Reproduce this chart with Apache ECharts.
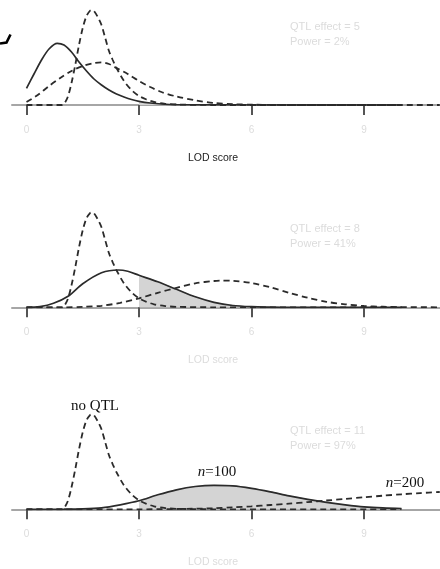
<!DOCTYPE html>
<html>
<head>
<meta charset="utf-8">
<script src="https://cdn.jsdelivr.net/npm/echarts@6/dist/echarts.min.js"></script>
<style>html,body{margin:0;padding:0;background:#fff;}#c{width:440px;height:569px;}</style>
</head>
<body>
<div id="c"></div>
<script>
// ---- data (LOD score, density) ----
var tickValues = [0, 3, 6, 9];
var threshold = 3;
var effects = ['QTL effect = 5', 'QTL effect = 8', 'QTL effect = 11'];
var powers = ['Power = 2%', 'Power = 41%', 'Power = 97%'];

var noQtl = [[0,0],[0.95,0],[1.0,0.01],[1.1,0.08],[1.2,0.22],[1.3,0.4],[1.4,0.6],[1.5,0.77],[1.6,0.89],[1.7,0.945],[1.75,0.95],[1.8,0.94],[1.9,0.88],[2.0,0.8],[2.1,0.67],[2.2,0.54],[2.3,0.45],[2.4,0.37],[2.6,0.24],[2.8,0.15],[3.0,0.09],[3.2,0.055],[3.4,0.03],[3.7,0.012],[4.0,0.005],[5,0],[10,0]];

var n100_p1 = [[0,0.167],[0.2,0.31],[0.4,0.45],[0.6,0.56],[0.82,0.617],[1.0,0.6],[1.2,0.53],[1.4,0.43],[1.6,0.34],[1.8,0.26],[2.0,0.2],[2.2,0.15],[2.4,0.11],[2.6,0.08],[2.8,0.055],[3.0,0.037],[3.3,0.02],[3.6,0.01],[4,0.004],[5,0.001],[6,0],[10,0]];
var n200_p1 = [[0,0.03],[0.3,0.1],[0.6,0.19],[0.9,0.27],[1.2,0.34],[1.5,0.39],[1.8,0.42],[2.0,0.427],[2.2,0.41],[2.4,0.37],[2.7,0.31],[3.0,0.24],[3.3,0.18],[3.6,0.13],[4.0,0.085],[4.5,0.047],[5.0,0.02],[5.5,0.008],[6,0.003],[7,0],[11.02,0]];

var n100_p2 = [[0,0],[0.36,0.007],[0.72,0.04],[1.12,0.113],[1.5,0.235],[2.0,0.345],[2.45,0.373],[2.7,0.36],[3.0,0.32],[3.5,0.255],[4.0,0.18],[4.5,0.105],[5.0,0.05],[5.5,0.018],[6.0,0.006],[6.5,0.002],[7,0],[10,0]];
var n200_p2 = [[0,0],[1.0,0],[1.5,0.005],[2,0.015],[2.5,0.045],[3,0.09],[3.5,0.145],[4,0.195],[4.5,0.24],[5,0.263],[5.2,0.267],[5.5,0.265],[6,0.243],[6.5,0.2],[7,0.145],[7.5,0.095],[8,0.055],[8.5,0.03],[9,0.013],[9.5,0.006],[10,0.002],[11.02,0]];

var n100_p3 = [[0,0],[1,0.001],[1.5,0.004],[2,0.015],[2.5,0.045],[3,0.085],[3.5,0.145],[4,0.195],[4.5,0.228],[5,0.24],[5.5,0.235],[6,0.21],[6.5,0.175],[7,0.135],[7.5,0.1],[8,0.07],[8.5,0.045],[9,0.025],[9.5,0.014],[10,0.008]];
var n200_p3 = [[0,0],[3,0],[4,0.003],[5,0.01],[5.5,0.02],[6,0.03],[6.5,0.043],[7,0.057],[7.5,0.072],[8,0.088],[8.5,0.104],[9,0.12],[9.5,0.136],[10,0.15],[10.5,0.162],[11.02,0.173]];

var n100Sets = [n100_p1, n100_p2, n100_p3];
var n200Sets = [n200_p1, n200_p2, n200_p3];

// ---- layout ----
var baselines = [105, 307.3, 509.3];
var plotH = 100;
var font = '"Liberation Sans", Arial, sans-serif';
var serif = '"Liberation Serif", "Times New Roman", serif';
var ink = '#2b2b2b';
var sm = 0.3;

var grids = [], xAxes = [], yAxes = [], series = [], graphics = [];
baselines.forEach(function (b, i) {
  grids.push({left: 12, right: 0, top: b - plotH, height: plotH, containLabel: false});
  xAxes.push({
    type: 'value', gridIndex: i, min: -0.3867, max: 11.027,
    axisLine: {show: true, lineStyle: {color: '#a6a6a6', width: 2}},
    axisTick: {show: true, customValues: tickValues, length: 10, lineStyle: {color: '#555', width: 2}},
    axisLabel: {show: true, customValues: tickValues, color: '#dcdcdc', fontSize: 10, fontFamily: font, margin: 20},
    splitLine: {show: false}
  });
  yAxes.push({type: 'value', gridIndex: i, min: 0, max: 1, show: false});
  var shade = n100Sets[i].filter(function (p) { return p[0] >= threshold; });
  series.push({
    type: 'line', xAxisIndex: i, yAxisIndex: i, data: shade, smooth: sm,
    symbol: 'none', lineStyle: {width: 0.8, color: '#bdbdbd'}, areaStyle: {color: '#d4d4d4', opacity: 1}, z: 1, silent: true
  });
  series.push({
    type: 'line', xAxisIndex: i, yAxisIndex: i, data: noQtl, smooth: sm,
    symbol: 'none', lineStyle: {width: 1.8, color: ink, type: [6, 4]}, z: 3
  });
  series.push({
    type: 'line', xAxisIndex: i, yAxisIndex: i, data: n200Sets[i], smooth: sm,
    symbol: 'none', lineStyle: {width: 1.8, color: ink, type: [6, 4]}, z: 3
  });
  series.push({
    type: 'line', xAxisIndex: i, yAxisIndex: i, data: n100Sets[i], smooth: sm,
    symbol: 'none', lineStyle: {width: 1.7, color: ink}, z: 4
  });
  var off = [0, 202.3, 404.3][i];
  graphics.push({type: 'text', left: 290, top: 21 + off, style: {text: effects[i], fill: '#dcdcdc', font: '11px ' + font}});
  graphics.push({type: 'text', left: 290, top: 36 + off, style: {text: powers[i], fill: '#dcdcdc', font: '11px ' + font}});
  graphics.push({type: 'text', x: 213, y: b + 53, style: {text: 'LOD score', fill: i === 0 ? '#222' : '#dcdcdc', font: '10.5px ' + font, textAlign: 'center', textVerticalAlign: 'middle'}});
});

graphics.push({type: 'text', x: 95, y: 406, style: {text: 'no QTL', fill: '#111', font: '15px ' + serif, textAlign: 'center', textVerticalAlign: 'middle'}});
graphics.push({type: 'text', x: 217, y: 472, style: {text: '{i|n}=100', fill: '#111', font: '15px ' + serif, textAlign: 'center', textVerticalAlign: 'middle', rich: {i: {fontStyle: 'italic', fontFamily: serif, fontSize: 15, fill: '#111'}}}});
graphics.push({type: 'text', x: 405, y: 483, style: {text: '{i|n}=200', fill: '#111', font: '15px ' + serif, textAlign: 'center', textVerticalAlign: 'middle', rich: {i: {fontStyle: 'italic', fontFamily: serif, fontSize: 15, fill: '#111'}}}});
graphics.push({type: 'polyline', shape: {points: [[0, 43.5], [6.5, 42.5], [10.5, 34.5]]}, style: {stroke: '#000', lineWidth: 2.6, fill: null}});

var chart = echarts.init(document.getElementById('c'), null, {renderer: 'canvas'});
chart.setOption({
  animation: false,
  backgroundColor: '#fff',
  grid: grids, xAxis: xAxes, yAxis: yAxes, series: series,
  graphic: graphics
});
</script>
</body>
</html>
